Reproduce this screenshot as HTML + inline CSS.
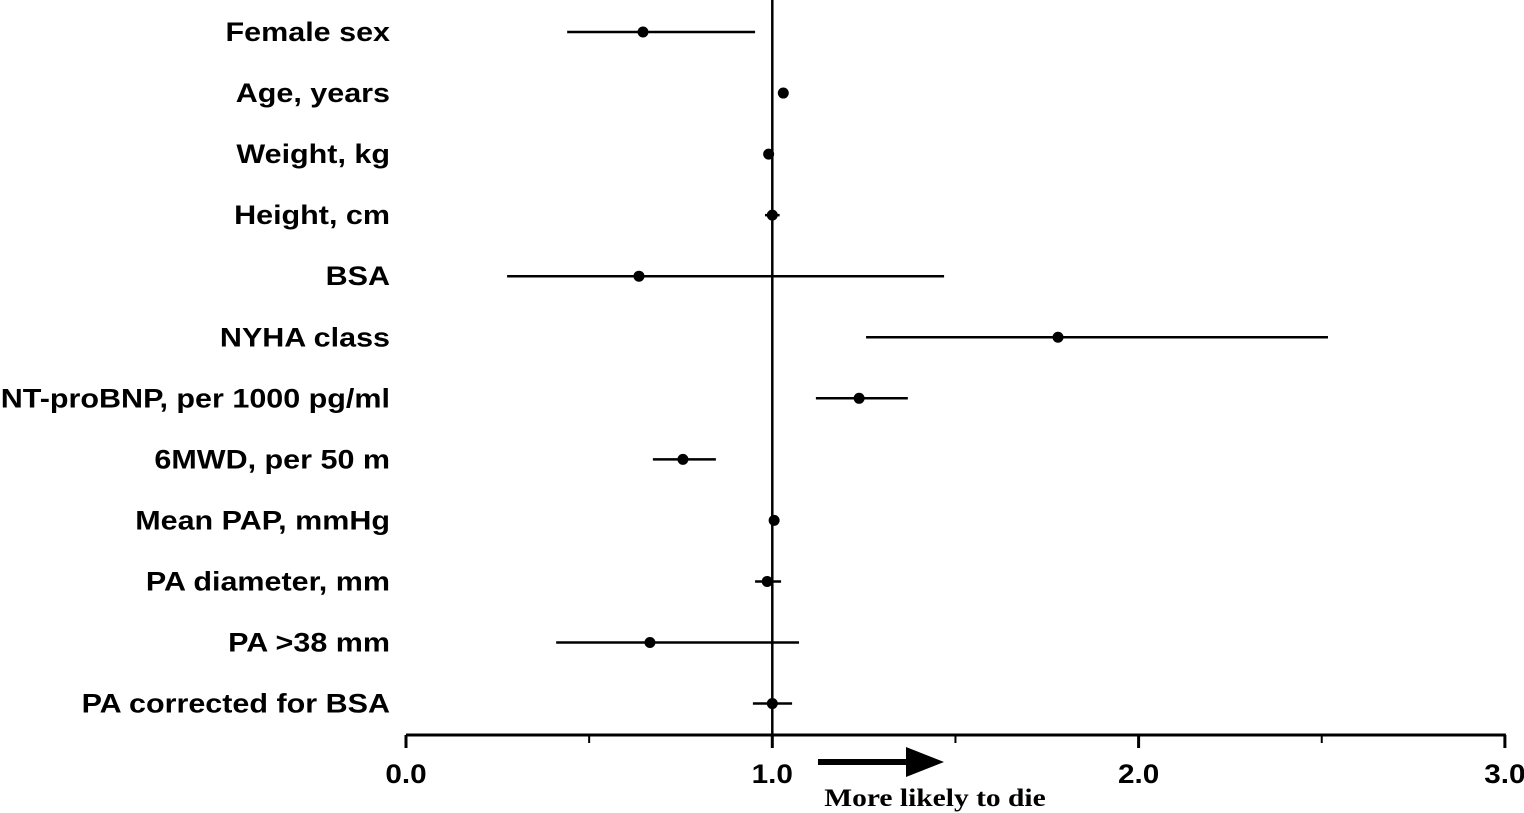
<!DOCTYPE html>
<html><head><meta charset="utf-8"><style>
html,body{margin:0;padding:0;background:#fff;}
svg{display:block;}
.lbl{font-family:"Liberation Sans",Arial,sans-serif;font-weight:bold;font-size:27px;fill:#000;}
</style></head><body>
<svg id="chart" width="1524" height="813"></svg>
<script>
const categories=["Female sex","Age, years","Weight, kg","Height, cm","BSA","NYHA class","NT-proBNP, per 1000 pg/ml","6MWD, per 50 m","Mean PAP, mmHg","PA diameter, mm","PA >38 mm","PA corrected for BSA"];
const estimates=[0.647,1.03,0.99,1.0,0.636,1.78,1.237,0.756,1.005,0.986,0.666,1.0];
const lowerCI=[0.44,1.03,0.99,0.98,0.276,1.256,1.119,0.674,1.005,0.953,0.41,0.947];
const upperCI=[0.953,1.03,0.99,1.02,1.469,2.517,1.37,0.846,1.005,1.024,1.073,1.054];
const majorTicks=[0,1,2,3];
const tickLabels=["0.0","1.0","2.0","3.0"];
const minorTicks=[0.5,1.5,2.5];

const NS="http://www.w3.org/2000/svg";
const svg=document.getElementById('chart');
const x=v=>406+v*366.3;
const y=i=>32+i*61.05;
const axisY=735;
function mk(t,a,p){const e=document.createElementNS(NS,t);for(const k in a)e.setAttribute(k,a[k]);(p||svg).appendChild(e);return e;}

let e=mk('line',{x1:x(1),x2:x(1),y1:0,y2:axisY,stroke:'#000','stroke-width':2.5});


e=mk('line',{x1:x(0),x2:x(3)+1,y1:axisY,y2:axisY,stroke:'#000','stroke-width':3});


majorTicks.forEach((t,i)=>{
  let k=mk('line',{x1:x(t),x2:x(t),y1:axisY,y2:axisY+13,stroke:'#000','stroke-width':3});
  
  
  let l=mk('text',{x:0,y:0,'text-anchor':'middle',class:'lbl',transform:`translate(${x(t)},783) scale(1.1,1)`});
  l.textContent=tickLabels[i];
  
  
});
minorTicks.forEach(t=>{
  let k=mk('line',{x1:x(t),x2:x(t),y1:axisY,y2:axisY+8,stroke:'#000','stroke-width':2});
  
  
});
categories.forEach((c,i)=>{
  let l=mk('text',{x:0,y:0,'text-anchor':'end',class:'lbl',transform:`translate(390,${y(i)+9}) scale(1.13,1)`});
  l.textContent=c;
  
  
  let ci=mk('line',{x1:x(lowerCI[i]),x2:x(upperCI[i]),y1:y(i),y2:y(i),stroke:'#000','stroke-width':2.5});
  
  
  let p=mk('circle',{cx:x(estimates[i]),cy:y(i),r:5.5,fill:'#000'});
  
  
});
e=mk('path',{d:'M818 759 L906 759 L906 747 L944 762 L906 777 L906 765 L818 765 Z',fill:'#000'});


e=mk('text',{x:0,y:0,'text-anchor':'middle','font-family':'"Liberation Serif",serif','font-weight':'bold','font-size':'25px',transform:'translate(935,806) scale(1.18,1)'});
e.textContent='More likely to die';


</script>
</body></html>
